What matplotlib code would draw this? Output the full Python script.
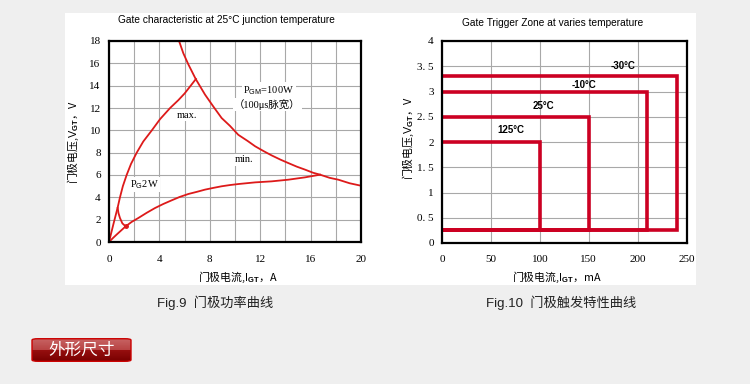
import matplotlib
matplotlib.use('Agg')
import matplotlib.pyplot as plt
from matplotlib.patches import Rectangle, FancyBboxPatch
from matplotlib.colors import LinearSegmentedColormap
import numpy as np

plt.rcParams['mathtext.fontset'] = 'custom'
plt.rcParams['mathtext.rm'] = 'Liberation Sans'
plt.rcParams['mathtext.bf'] = 'Liberation Sans:bold'

# ---- Fig.9 data (gate current A, gate voltage V) ----
pgm_i = [5.56, 5.9, 6.3, 6.88, 7.62, 8.3, 8.94, 9.6, 10.26, 11.0, 11.6, 12.3, 12.9,
         13.6, 14.23, 14.9, 15.56, 16.2, 16.75, 17.5, 18.2, 19.1, 20.0]
pgm_v = [18.0, 16.9, 15.9, 14.6, 13.2, 12.1, 11.1, 10.4, 9.6, 9.05, 8.57, 8.12, 7.76,
         7.38, 7.07, 6.75, 6.48, 6.2, 6.03, 5.75, 5.58, 5.26, 5.04]
max_i = [0, 0.35, 0.69, 0.87, 1.1, 1.4, 1.75, 2.2, 2.72, 3.4, 4.05, 4.85, 5.5, 6.0, 6.9]
max_v = [0, 1.6, 3.1, 4.0, 5.0, 6.0, 7.0, 8.0, 9.0, 10.0, 11.0, 12.0, 12.7, 13.3, 14.6]
min_i = [0, 0.3, 0.6, 0.95, 1.32, 1.8, 2.33, 3.0, 3.65, 4.3, 4.97, 5.6, 6.3, 7.0, 7.62,
         8.3, 8.94, 9.6, 10.26, 11.6, 12.9, 14.23, 15.56, 16.75]
min_v = [0, 0.34, 0.66, 1.02, 1.4, 1.8, 2.15, 2.62, 3.04, 3.4, 3.73, 4.03, 4.3, 4.5, 4.69,
         4.85, 4.99, 5.1, 5.19, 5.34, 5.43, 5.58, 5.79, 6.03]
pg2_i = [0.69, 0.75, 0.87, 1.06, 1.32]
pg2_v = [3.05, 2.6, 2.15, 1.67, 1.4]

# ---- Fig.10 data (gate trigger zones) ----
zone_temps = ['-30°C', '-10°C', '25°C', '125°C']
zone_igt = [240, 210, 150, 100]      # mA
zone_vgt = [3.3, 3.0, 2.5, 2.0]      # V
zone_vmin = 0.25
zone_lbl_x = [185, 145, 104, 70]
zone_lbl_y = [3.5, 3.13, 2.72, 2.23]

W, H = 750, 384
fig = plt.figure(figsize=(7.5, 3.84), dpi=100, facecolor='#efefef')

def fx(px):
    return px / W

def fy(py):
    return 1 - py / H

# white panel behind both charts
fig.patches.append(Rectangle((fx(65), fy(285)), (696 - 65) / W, (285 - 13) / H,
                             transform=fig.transFigure, facecolor='white',
                             edgecolor='none', zorder=-5))

red = '#dd1a1a'
red2 = '#cc0022'
serif = 'Liberation Serif'
cjk = 'Noto Sans CJK SC'

def style_axes(ax):
    for s in ax.spines.values():
        s.set_linewidth(1.6)
        s.set_color('black')
    ax.tick_params(which='both', length=0, labelsize=8, pad=6)
    for lb in ax.get_xticklabels() + ax.get_yticklabels():
        lb.set_fontfamily(serif)
    ax.grid(True, which='both', color='#a8a8a8', lw=0.8)
    ax.set_axisbelow(True)

# ---------------- left chart ----------------
ax1 = fig.add_axes([fx(109), fy(242), (361 - 109) / W, (242 - 41) / H])
ax1.set_xlim(0, 20)
ax1.set_ylim(0, 18)
ax1.set_xticks(range(0, 21, 4))
ax1.set_xticks(range(0, 21, 2), minor=True)
ax1.set_yticks(range(0, 19, 2))
style_axes(ax1)
ax1.tick_params(axis='x', pad=9)

lbox = dict(facecolor='white', edgecolor='none', pad=1)
ax1.text(12.7, 13.6, r'P$_{\mathrm{GM}}$=100W', fontfamily=serif, fontsize=7.5,
         ha='center', va='center', bbox=lbox)
ax1.text(12.57, 12.3, '（100μs脉宽）', fontfamily=[serif, cjk], fontsize=7.5,
         ha='center', va='center', bbox=lbox)
ax1.text(6.17, 11.35, 'max.', fontfamily=serif, fontsize=7.5, ha='center', va='center',
         bbox=lbox)
ax1.text(10.74, 7.37, 'min.', fontfamily=serif, fontsize=7.5, ha='center', va='center',
         bbox=lbox)
ax1.text(2.8, 5.13, r'P$_{\mathrm{G}}$2W', fontfamily=serif, fontsize=7.5,
         ha='center', va='center', bbox=lbox)

ax1.plot(pgm_i, pgm_v, color=red, lw=1.3, solid_joinstyle='round')
ax1.plot(max_i, max_v, color=red, lw=1.3, solid_joinstyle='round')
ax1.plot(min_i, min_v, color=red, lw=1.3, solid_joinstyle='round')
ax1.plot(pg2_i, pg2_v, color=red, lw=1.3, solid_joinstyle='round')
ax1.plot([pg2_i[-1]], [pg2_v[-1]], 'o', color=red, ms=2.5)

fig.text(fx(226), fy(20), 'Gate characteristic at 25°C junction temperature',
         fontfamily='Liberation Sans', fontsize=7.3, ha='center', va='center')
fig.text(fx(238), fy(277), r'门极电流,$\mathrm{I}_{\mathbf{GT}}$，A', fontfamily=cjk,
         fontsize=7.8, ha='center', va='center')
fig.text(fx(73), fy(142), r'门极电压,$\mathrm{V}_{\mathbf{GT}}$，V', fontfamily=cjk,
         fontsize=7.8, ha='center', va='center', rotation=90)

# ---------------- right chart ----------------
ax2 = fig.add_axes([fx(442), fy(243), (686.5 - 442) / W, (243 - 41) / H])
ax2.set_xlim(0, 250)
ax2.set_ylim(0, 4)
ax2.set_xticks(range(0, 251, 50))
yt = np.arange(0, 4.01, 0.5)
ax2.set_yticks(yt)
ax2.set_yticklabels(['0', '0. 5', '1', '1. 5', '2', '2. 5', '3', '3. 5', '4'])
style_axes(ax2)
ax2.tick_params(axis='x', pad=9)

for t, xi, vi, lx, ly in zip(zone_temps, zone_igt, zone_vgt, zone_lbl_x, zone_lbl_y):
    ax2.plot([0, xi, xi, 0], [vi, vi, zone_vmin, zone_vmin], color=red2, lw=2.6,
             solid_joinstyle='miter')
    ax2.text(lx, ly, t, fontfamily='Liberation Sans', fontweight='bold', fontsize=7,
             ha='center', va='center')

fig.text(fx(553), fy(23), 'Gate Trigger Zone at varies temperature',
         fontfamily='Liberation Sans', fontsize=7.3, ha='center', va='center')
fig.text(fx(557), fy(277), r'门极电流,$\mathrm{I}_{\mathbf{GT}}$，mA', fontfamily=cjk,
         fontsize=7.8, ha='center', va='center')
fig.text(fx(408), fy(138), r'门极电压,$\mathrm{V}_{\mathbf{GT}}$，V', fontfamily=cjk,
         fontsize=7.8, ha='center', va='center', rotation=90)

# ---------------- captions ----------------
fig.text(fx(215), fy(303), 'Fig.9  门极功率曲线', fontfamily=['Liberation Sans', cjk],
         fontsize=9.5, ha='center', va='center', color='#222222')
fig.text(fx(561), fy(303), 'Fig.10  门极触发特性曲线', fontfamily=['Liberation Sans', cjk],
         fontsize=9.5, ha='center', va='center', color='#222222')

# ---------------- red button ----------------
bx = fig.add_axes([fx(31), fy(362), 101 / W, 24 / H])
bx.set_axis_off()
grad = np.concatenate([np.linspace(0.6, 0.48, 12), np.linspace(0.22, 0.0, 12)])[:, None]
bcm = LinearSegmentedColormap.from_list('btn', ['#780000', '#a01414', '#c86464'])
im = bx.imshow(grad, aspect='auto', cmap=bcm, vmin=0, vmax=0.6, extent=[0, 1, 0, 1])
bx.set_xlim(0, 1)
bx.set_ylim(0, 1)
clip = FancyBboxPatch((0.01, 0.03), 0.98, 0.94, boxstyle='round,pad=0,rounding_size=0.06',
                      transform=bx.transAxes, facecolor='none', edgecolor='#cc0000', lw=1)
bx.add_patch(clip)
im.set_clip_path(clip)
bx.text(0.5, 0.5, '外形尺寸', fontfamily=cjk, fontsize=12, color='white',
        ha='center', va='center', transform=bx.transAxes)

fig.savefig('out.png', dpi=100, facecolor=fig.get_facecolor())
